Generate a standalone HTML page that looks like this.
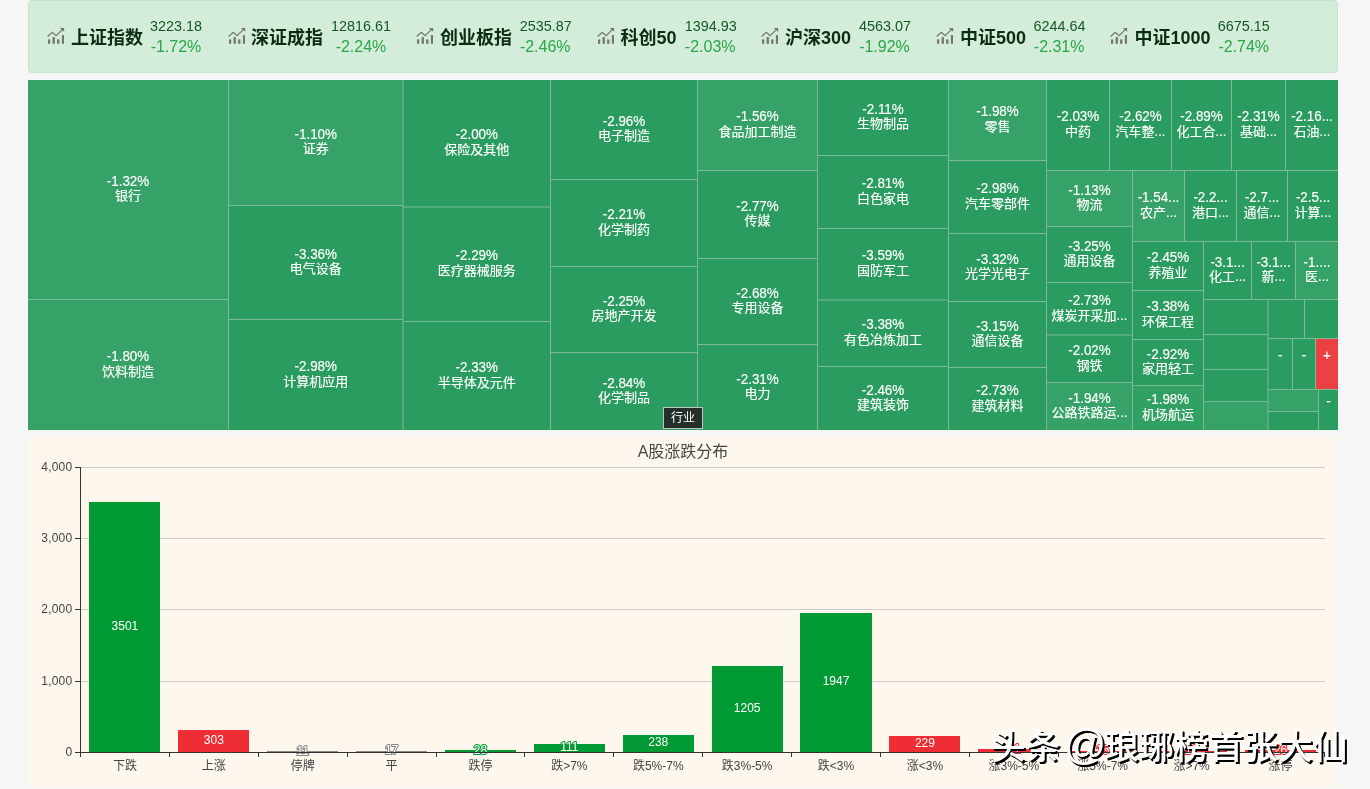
<!DOCTYPE html>
<html lang="zh-CN">
<head>
<meta charset="utf-8">
<title>A股涨跌分布</title>
<style>
html,body{margin:0;padding:0;}
body{width:1370px;height:789px;overflow:hidden;background:#f6f6f6;position:relative;font-family:"Liberation Sans","Noto Sans CJK SC",sans-serif;}
.abs{position:absolute;}
#alert{left:28px;top:0;width:1308px;height:71px;background:#d4edda;border:1px solid #c3e6cb;border-radius:4px;}
.ic{position:absolute;top:26px;width:18px;height:18px;}
.nm{position:absolute;top:22px;height:30px;line-height:30px;font-size:18px;font-weight:700;color:#0b2e13;white-space:nowrap;}
.vals{position:absolute;top:14px;text-align:center;white-space:nowrap;}
.vals .v{font-size:14.4px;line-height:22px;height:22px;color:#155724;}
.vals .p{font-size:16px;line-height:20px;height:20px;color:#28a745;}
#tm{left:28px;top:80px;width:1310px;height:350px;background:#7db996;overflow:hidden;}
.c{position:absolute;display:flex;flex-direction:column;align-items:center;justify-content:center;color:#fff;font-size:13px;line-height:15px;text-align:center;white-space:nowrap;overflow:hidden;}
.c span{display:block;height:15px;position:relative;top:-1.15px;-webkit-text-stroke:0.15px #fff;}
.c span.d{font-size:13.4px;transform:scaleY(1.1);top:-0.9px;}
.c.one{justify-content:flex-start;}
#bc{left:662.6px;top:407.2px;width:38.8px;height:20.2px;border:1px solid #b9c8bf;background:#252f2a;color:#fff;font-size:12px;line-height:20px;text-align:center;}
#panel{left:28px;top:437px;width:1310px;height:350px;background:#fef7ed;}
#title{left:0;top:4px;width:1310px;text-align:center;font-size:16px;line-height:22px;color:#464646;}
.gl{position:absolute;left:53px;width:1244px;height:1px;background:#ccc;}
.yl{position:absolute;left:0;width:44.3px;text-align:right;font-size:12px;line-height:14px;color:#444;letter-spacing:0.2px;margin-top:-0.4px;}
.yt{position:absolute;left:47px;width:5px;height:1px;background:#333;}
.xt{position:absolute;top:316px;width:1px;height:4px;background:#333;}
.xl{position:absolute;top:320px;width:89px;text-align:center;font-size:12px;line-height:18px;color:#444;white-space:nowrap;}
.bar{position:absolute;}
.bl{position:absolute;text-align:center;font-size:12px;line-height:14px;height:14px;color:#fff;white-space:nowrap;}
#wm{left:991px;top:721px;font-size:34.6px;line-height:48px;color:#fff;white-space:nowrap;text-shadow:1.5px 1.5px 0 #000,2px 2px 0 #000;font-weight:500;letter-spacing:0.15px;}
#wm .at{font-size:42px;line-height:48px;margin-left:-6.5px;margin-right:-2px;font-weight:400;}
</style>
</head>
<body>
<div id="alert" class="abs">
<svg class="ic" style="left:18.0px" viewBox="0 0 18 18"><g fill="#747474"><rect x="1" y="12.4" width="2.2" height="4.4"/><rect x="5.6" y="10.1" width="2.3" height="6.7"/><rect x="10.1" y="12.4" width="2.3" height="4.4"/><rect x="14.9" y="8.1" width="2.1" height="8.7"/><polygon points="12.8,1.1 17.1,1.1 17.1,4.8"/></g><path d="M0.6 9.5 L5.3 5.2 L9.1 8.7 L15.6 2.4" fill="none" stroke="#747474" stroke-width="1.2"/></svg>
<div class="nm" style="left:42px">上证指数</div>
<div class="vals" style="left:121px;width:52px"><div class="v">3223.18</div><div class="p">-1.72%</div></div>
<svg class="ic" style="left:198.9px" viewBox="0 0 18 18"><g fill="#747474"><rect x="1" y="12.4" width="2.2" height="4.4"/><rect x="5.6" y="10.1" width="2.3" height="6.7"/><rect x="10.1" y="12.4" width="2.3" height="4.4"/><rect x="14.9" y="8.1" width="2.1" height="8.7"/><polygon points="12.8,1.1 17.1,1.1 17.1,4.8"/></g><path d="M0.6 9.5 L5.3 5.2 L9.1 8.7 L15.6 2.4" fill="none" stroke="#747474" stroke-width="1.2"/></svg>
<div class="nm" style="left:222px">深证成指</div>
<div class="vals" style="left:302px;width:60px"><div class="v">12816.61</div><div class="p">-2.24%</div></div>
<svg class="ic" style="left:387.0px" viewBox="0 0 18 18"><g fill="#747474"><rect x="1" y="12.4" width="2.2" height="4.4"/><rect x="5.6" y="10.1" width="2.3" height="6.7"/><rect x="10.1" y="12.4" width="2.3" height="4.4"/><rect x="14.9" y="8.1" width="2.1" height="8.7"/><polygon points="12.8,1.1 17.1,1.1 17.1,4.8"/></g><path d="M0.6 9.5 L5.3 5.2 L9.1 8.7 L15.6 2.4" fill="none" stroke="#747474" stroke-width="1.2"/></svg>
<div class="nm" style="left:411px">创业板指</div>
<div class="vals" style="left:490.7px;width:51.1px"><div class="v">2535.87</div><div class="p">-2.46%</div></div>
<svg class="ic" style="left:568.3px" viewBox="0 0 18 18"><g fill="#747474"><rect x="1" y="12.4" width="2.2" height="4.4"/><rect x="5.6" y="10.1" width="2.3" height="6.7"/><rect x="10.1" y="12.4" width="2.3" height="4.4"/><rect x="14.9" y="8.1" width="2.1" height="8.7"/><polygon points="12.8,1.1 17.1,1.1 17.1,4.8"/></g><path d="M0.6 9.5 L5.3 5.2 L9.1 8.7 L15.6 2.4" fill="none" stroke="#747474" stroke-width="1.2"/></svg>
<div class="nm" style="left:591.5px">科创50</div>
<div class="vals" style="left:655.7px;width:51.0px"><div class="v">1394.93</div><div class="p">-2.03%</div></div>
<svg class="ic" style="left:731.5px" viewBox="0 0 18 18"><g fill="#747474"><rect x="1" y="12.4" width="2.2" height="4.4"/><rect x="5.6" y="10.1" width="2.3" height="6.7"/><rect x="10.1" y="12.4" width="2.3" height="4.4"/><rect x="14.9" y="8.1" width="2.1" height="8.7"/><polygon points="12.8,1.1 17.1,1.1 17.1,4.8"/></g><path d="M0.6 9.5 L5.3 5.2 L9.1 8.7 L15.6 2.4" fill="none" stroke="#747474" stroke-width="1.2"/></svg>
<div class="nm" style="left:756px">沪深300</div>
<div class="vals" style="left:830px;width:51px"><div class="v">4563.07</div><div class="p">-1.92%</div></div>
<svg class="ic" style="left:907.2px" viewBox="0 0 18 18"><g fill="#747474"><rect x="1" y="12.4" width="2.2" height="4.4"/><rect x="5.6" y="10.1" width="2.3" height="6.7"/><rect x="10.1" y="12.4" width="2.3" height="4.4"/><rect x="14.9" y="8.1" width="2.1" height="8.7"/><polygon points="12.8,1.1 17.1,1.1 17.1,4.8"/></g><path d="M0.6 9.5 L5.3 5.2 L9.1 8.7 L15.6 2.4" fill="none" stroke="#747474" stroke-width="1.2"/></svg>
<div class="nm" style="left:931px">中证500</div>
<div class="vals" style="left:1004.5px;width:51.3px"><div class="v">6244.64</div><div class="p">-2.31%</div></div>
<svg class="ic" style="left:1081.3px" viewBox="0 0 18 18"><g fill="#747474"><rect x="1" y="12.4" width="2.2" height="4.4"/><rect x="5.6" y="10.1" width="2.3" height="6.7"/><rect x="10.1" y="12.4" width="2.3" height="4.4"/><rect x="14.9" y="8.1" width="2.1" height="8.7"/><polygon points="12.8,1.1 17.1,1.1 17.1,4.8"/></g><path d="M0.6 9.5 L5.3 5.2 L9.1 8.7 L15.6 2.4" fill="none" stroke="#747474" stroke-width="1.2"/></svg>
<div class="nm" style="left:1105.5px">中证1000</div>
<div class="vals" style="left:1188.8px;width:51.9px"><div class="v">6675.15</div><div class="p">-2.74%</div></div>
</div>
<div id="tm" class="abs">
<svg width="1310" height="350" viewBox="28 80 1310 350" style="position:absolute;left:0;top:0">
<rect x="28.00" y="80.00" width="200.00" height="219.00" fill="#36a267"/><rect x="28.00" y="300.00" width="200.00" height="130.00" fill="#36a267"/><rect x="229.00" y="80.00" width="173.50" height="125.00" fill="#36a267"/><rect x="229.00" y="206.00" width="173.50" height="113.00" fill="#2b9c5f"/><rect x="229.00" y="320.00" width="173.50" height="110.00" fill="#2b9c5f"/><rect x="403.50" y="80.00" width="146.50" height="126.50" fill="#2b9c5f"/><rect x="403.50" y="207.50" width="146.50" height="113.50" fill="#2b9c5f"/><rect x="403.50" y="322.00" width="146.50" height="108.00" fill="#2b9c5f"/><rect x="551.00" y="80.00" width="146.00" height="99.00" fill="#2b9c5f"/><rect x="551.00" y="180.00" width="146.00" height="86.00" fill="#2b9c5f"/><rect x="551.00" y="267.00" width="146.00" height="85.00" fill="#2b9c5f"/><rect x="551.00" y="353.00" width="146.00" height="77.00" fill="#2b9c5f"/><rect x="698.00" y="80.00" width="119.00" height="90.00" fill="#36a267"/><rect x="698.00" y="171.00" width="119.00" height="87.00" fill="#2b9c5f"/><rect x="698.00" y="259.00" width="119.00" height="85.00" fill="#2b9c5f"/><rect x="698.00" y="345.00" width="119.00" height="85.00" fill="#2b9c5f"/><rect x="818.00" y="80.00" width="130.00" height="75.00" fill="#2b9c5f"/><rect x="818.00" y="156.00" width="130.00" height="72.00" fill="#2b9c5f"/><rect x="818.00" y="229.00" width="130.00" height="70.50" fill="#2b9c5f"/><rect x="818.00" y="300.50" width="130.00" height="65.50" fill="#2b9c5f"/><rect x="818.00" y="367.00" width="130.00" height="63.00" fill="#2b9c5f"/><rect x="949.00" y="80.00" width="97.00" height="80.00" fill="#36a267"/><rect x="949.00" y="161.00" width="97.00" height="72.00" fill="#2b9c5f"/><rect x="949.00" y="234.00" width="97.00" height="67.00" fill="#2b9c5f"/><rect x="949.00" y="302.00" width="97.00" height="65.00" fill="#2b9c5f"/><rect x="949.00" y="368.00" width="97.00" height="62.00" fill="#2b9c5f"/><rect x="1047.00" y="80.00" width="62.00" height="90.00" fill="#2b9c5f"/><rect x="1110.00" y="80.00" width="61.00" height="90.00" fill="#2b9c5f"/><rect x="1172.00" y="80.00" width="59.00" height="90.00" fill="#2b9c5f"/><rect x="1232.00" y="80.00" width="53.00" height="90.00" fill="#2b9c5f"/><rect x="1286.00" y="80.00" width="52.00" height="90.00" fill="#2b9c5f"/><rect x="1047.00" y="171.00" width="85.00" height="55.00" fill="#36a267"/><rect x="1047.00" y="227.00" width="85.00" height="55.00" fill="#2b9c5f"/><rect x="1047.00" y="283.00" width="85.00" height="51.50" fill="#2b9c5f"/><rect x="1047.00" y="335.50" width="85.00" height="46.50" fill="#2b9c5f"/><rect x="1047.00" y="383.00" width="85.00" height="47.00" fill="#36a267"/><rect x="1133.00" y="171.00" width="51.00" height="70.00" fill="#36a267"/><rect x="1185.00" y="171.00" width="51.00" height="70.00" fill="#2b9c5f"/><rect x="1237.00" y="171.00" width="50.00" height="70.00" fill="#2b9c5f"/><rect x="1288.00" y="171.00" width="50.00" height="70.00" fill="#2b9c5f"/><rect x="1133.00" y="242.00" width="70.00" height="48.00" fill="#2b9c5f"/><rect x="1133.00" y="291.00" width="70.00" height="48.00" fill="#2b9c5f"/><rect x="1133.00" y="340.00" width="70.00" height="45.00" fill="#2b9c5f"/><rect x="1133.00" y="386.00" width="70.00" height="44.00" fill="#30a063"/><rect x="1204.00" y="242.00" width="47.00" height="57.00" fill="#2b9c5f"/><rect x="1252.00" y="242.00" width="43.00" height="57.00" fill="#2b9c5f"/><rect x="1296.00" y="242.00" width="42.00" height="57.00" fill="#36a267"/><rect x="1204.00" y="300.00" width="63.50" height="34.00" fill="#2b9c5f"/><rect x="1204.00" y="335.00" width="63.50" height="34.00" fill="#2b9c5f"/><rect x="1204.00" y="370.00" width="63.50" height="31.00" fill="#2b9c5f"/><rect x="1204.00" y="402.00" width="63.50" height="28.00" fill="#36a267"/><rect x="1268.50" y="300.00" width="35.50" height="38.00" fill="#2b9c5f"/><rect x="1305.00" y="300.00" width="33.00" height="38.00" fill="#2b9c5f"/><rect x="1268.50" y="339.00" width="23.50" height="50.00" fill="#2b9c5f"/><rect x="1293.00" y="339.00" width="22.00" height="50.00" fill="#2b9c5f"/><rect x="1316.00" y="339.00" width="22.00" height="50.00" fill="#ec4044"/><rect x="1268.50" y="390.00" width="49.50" height="21.00" fill="#36a267"/><rect x="1268.50" y="412.00" width="49.50" height="18.00" fill="#2b9c5f"/><rect x="1319.00" y="390.00" width="19.00" height="40.00" fill="#2b9c5f"/>
</svg>
<div class="c" style="left:0.00px;top:0.00px;width:200.00px;height:219.00px"><span class="d">-1.32%</span><span>银行</span></div>
<div class="c" style="left:0.00px;top:220.00px;width:200.00px;height:130.00px"><span class="d">-1.80%</span><span>饮料制造</span></div>
<div class="c" style="left:201.00px;top:0.00px;width:173.50px;height:125.00px"><span class="d">-1.10%</span><span>证券</span></div>
<div class="c" style="left:201.00px;top:126.00px;width:173.50px;height:113.00px"><span class="d">-3.36%</span><span>电气设备</span></div>
<div class="c" style="left:201.00px;top:240.00px;width:173.50px;height:110.00px"><span class="d">-2.98%</span><span>计算机应用</span></div>
<div class="c" style="left:375.50px;top:0.00px;width:146.50px;height:126.50px"><span class="d">-2.00%</span><span>保险及其他</span></div>
<div class="c" style="left:375.50px;top:127.50px;width:146.50px;height:113.50px"><span class="d">-2.29%</span><span>医疗器械服务</span></div>
<div class="c" style="left:375.50px;top:242.00px;width:146.50px;height:108.00px"><span class="d">-2.33%</span><span>半导体及元件</span></div>
<div class="c" style="left:523.00px;top:0.00px;width:146.00px;height:99.00px"><span class="d">-2.96%</span><span>电子制造</span></div>
<div class="c" style="left:523.00px;top:100.00px;width:146.00px;height:86.00px"><span class="d">-2.21%</span><span>化学制药</span></div>
<div class="c" style="left:523.00px;top:187.00px;width:146.00px;height:85.00px"><span class="d">-2.25%</span><span>房地产开发</span></div>
<div class="c" style="left:523.00px;top:273.00px;width:146.00px;height:77.00px"><span class="d">-2.84%</span><span>化学制品</span></div>
<div class="c" style="left:670.00px;top:0.00px;width:119.00px;height:90.00px"><span class="d">-1.56%</span><span>食品加工制造</span></div>
<div class="c" style="left:670.00px;top:91.00px;width:119.00px;height:87.00px"><span class="d">-2.77%</span><span>传媒</span></div>
<div class="c" style="left:670.00px;top:179.00px;width:119.00px;height:85.00px"><span class="d">-2.68%</span><span>专用设备</span></div>
<div class="c" style="left:670.00px;top:265.00px;width:119.00px;height:85.00px"><span class="d">-2.31%</span><span>电力</span></div>
<div class="c" style="left:790.00px;top:0.00px;width:130.00px;height:75.00px"><span class="d">-2.11%</span><span>生物制品</span></div>
<div class="c" style="left:790.00px;top:76.00px;width:130.00px;height:72.00px"><span class="d">-2.81%</span><span>白色家电</span></div>
<div class="c" style="left:790.00px;top:149.00px;width:130.00px;height:70.50px"><span class="d">-3.59%</span><span>国防军工</span></div>
<div class="c" style="left:790.00px;top:220.50px;width:130.00px;height:65.50px"><span class="d">-3.38%</span><span>有色冶炼加工</span></div>
<div class="c" style="left:790.00px;top:287.00px;width:130.00px;height:63.00px"><span class="d">-2.46%</span><span>建筑装饰</span></div>
<div class="c" style="left:921.00px;top:0.00px;width:97.00px;height:80.00px"><span class="d">-1.98%</span><span>零售</span></div>
<div class="c" style="left:921.00px;top:81.00px;width:97.00px;height:72.00px"><span class="d">-2.98%</span><span>汽车零部件</span></div>
<div class="c" style="left:921.00px;top:154.00px;width:97.00px;height:67.00px"><span class="d">-3.32%</span><span>光学光电子</span></div>
<div class="c" style="left:921.00px;top:222.00px;width:97.00px;height:65.00px"><span class="d">-3.15%</span><span>通信设备</span></div>
<div class="c" style="left:921.00px;top:288.00px;width:97.00px;height:62.00px"><span class="d">-2.73%</span><span>建筑材料</span></div>
<div class="c" style="left:1019.00px;top:0.00px;width:62.00px;height:90.00px"><span class="d">-2.03%</span><span>中药</span></div>
<div class="c" style="left:1082.00px;top:0.00px;width:61.00px;height:90.00px"><span class="d">-2.62%</span><span>汽车整...</span></div>
<div class="c" style="left:1144.00px;top:0.00px;width:59.00px;height:90.00px"><span class="d">-2.89%</span><span>化工合...</span></div>
<div class="c" style="left:1204.00px;top:0.00px;width:53.00px;height:90.00px"><span class="d">-2.31%</span><span>基础...</span></div>
<div class="c" style="left:1258.00px;top:0.00px;width:52.00px;height:90.00px"><span class="d">-2.16...</span><span>石油...</span></div>
<div class="c" style="left:1019.00px;top:91.00px;width:85.00px;height:55.00px"><span class="d">-1.13%</span><span>物流</span></div>
<div class="c" style="left:1019.00px;top:147.00px;width:85.00px;height:55.00px"><span class="d">-3.25%</span><span>通用设备</span></div>
<div class="c" style="left:1019.00px;top:203.00px;width:85.00px;height:51.50px"><span class="d">-2.73%</span><span>煤炭开采加...</span></div>
<div class="c" style="left:1019.00px;top:255.50px;width:85.00px;height:46.50px"><span class="d">-2.02%</span><span>钢铁</span></div>
<div class="c" style="left:1019.00px;top:303.00px;width:85.00px;height:47.00px"><span class="d">-1.94%</span><span>公路铁路运...</span></div>
<div class="c" style="left:1105.00px;top:91.00px;width:51.00px;height:70.00px"><span class="d">-1.54...</span><span>农产...</span></div>
<div class="c" style="left:1157.00px;top:91.00px;width:51.00px;height:70.00px"><span class="d">-2.2...</span><span>港口...</span></div>
<div class="c" style="left:1209.00px;top:91.00px;width:50.00px;height:70.00px"><span class="d">-2.7...</span><span>通信...</span></div>
<div class="c" style="left:1260.00px;top:91.00px;width:50.00px;height:70.00px"><span class="d">-2.5...</span><span>计算...</span></div>
<div class="c" style="left:1105.00px;top:162.00px;width:70.00px;height:48.00px"><span class="d">-2.45%</span><span>养殖业</span></div>
<div class="c" style="left:1105.00px;top:211.00px;width:70.00px;height:48.00px"><span class="d">-3.38%</span><span>环保工程</span></div>
<div class="c" style="left:1105.00px;top:260.00px;width:70.00px;height:45.00px"><span class="d">-2.92%</span><span>家用轻工</span></div>
<div class="c" style="left:1105.00px;top:306.00px;width:70.00px;height:44.00px"><span class="d">-1.98%</span><span>机场航运</span></div>
<div class="c" style="left:1176.00px;top:162.00px;width:47.00px;height:57.00px"><span class="d">-3.1...</span><span>化工...</span></div>
<div class="c" style="left:1224.00px;top:162.00px;width:43.00px;height:57.00px"><span class="d">-3.1...</span><span>新...</span></div>
<div class="c" style="left:1268.00px;top:162.00px;width:42.00px;height:57.00px"><span class="d">-1....</span><span>医...</span></div>
<div class="c one" style="left:1240.50px;top:259.00px;width:23.50px;height:50.00px;padding-top:10.0px;height:40.0px"><span class="d">-</span></div>
<div class="c one" style="left:1265.00px;top:259.00px;width:22.00px;height:50.00px;padding-top:10.0px;height:40.0px"><span class="d">-</span></div>
<div class="c one" style="left:1288.00px;top:259.00px;width:22.00px;height:50.00px;padding-top:10.0px;height:40.0px"><span class="d">+</span></div>
<div class="c one" style="left:1291.00px;top:310.00px;width:19.00px;height:40.00px;padding-top:5.0px;height:35.0px"><span class="d">-</span></div>
</div>
<div id="bc" class="abs">行业</div>
<div id="panel" class="abs">
<div id="title" class="abs">A股涨跌分布</div>
<div class="gl" style="top:30px"></div><div class="yt" style="top:30px"></div><div class="yl" style="top:23px">4,000</div>
<div class="gl" style="top:101px"></div><div class="yt" style="top:101px"></div><div class="yl" style="top:94px">3,000</div>
<div class="gl" style="top:172px"></div><div class="yt" style="top:172px"></div><div class="yl" style="top:165px">2,000</div>
<div class="gl" style="top:244px"></div><div class="yt" style="top:244px"></div><div class="yl" style="top:237px">1,000</div>
<div class="yt" style="top:315px"></div><div class="yl" style="top:308px">0</div>
<div class="xt" style="left:52px"></div><div class="bar" style="left:61.39px;top:65.28px;width:71.11px;height:249.62px;background:#009933"></div><div class="bl" style="left:61.39px;top:182.09px;width:71.11px;">3501</div><div class="xl" style="left:52.44px">下跌</div>
<div class="xt" style="left:141px"></div><div class="bar" style="left:150.27px;top:293.30px;width:71.11px;height:21.60px;background:#ee2e34"></div><div class="bl" style="left:150.27px;top:296.10px;width:71.11px;">303</div><div class="xl" style="left:141.33px">上涨</div>
<div class="xt" style="left:230px"></div><div class="bar" style="left:239.16px;top:314.12px;width:71.11px;height:0.78px;background:#8a8a8a"></div><div class="bl" style="left:239.16px;top:306.51px;width:71.11px;-webkit-text-stroke:2px #8a8a8a;paint-order:stroke fill;">11</div><div class="xl" style="left:230.21px">停牌</div>
<div class="xt" style="left:319px"></div><div class="bar" style="left:328.05px;top:313.69px;width:71.11px;height:1.21px;background:#8a8a8a"></div><div class="bl" style="left:328.05px;top:306.29px;width:71.11px;-webkit-text-stroke:2px #8a8a8a;paint-order:stroke fill;">17</div><div class="xl" style="left:319.10px">平</div>
<div class="xt" style="left:408px"></div><div class="bar" style="left:416.93px;top:312.90px;width:71.11px;height:2.00px;background:#009933"></div><div class="bl" style="left:416.93px;top:305.90px;width:71.11px;-webkit-text-stroke:2px #009933;paint-order:stroke fill;">28</div><div class="xl" style="left:407.99px">跌停</div>
<div class="xt" style="left:496px"></div><div class="bar" style="left:505.82px;top:306.99px;width:71.11px;height:7.91px;background:#009933"></div><div class="bl" style="left:505.82px;top:302.94px;width:71.11px;-webkit-text-stroke:2px #009933;paint-order:stroke fill;">111</div><div class="xl" style="left:496.87px">跌&gt;7%</div>
<div class="xt" style="left:585px"></div><div class="bar" style="left:594.70px;top:297.93px;width:71.11px;height:16.97px;background:#009933"></div><div class="bl" style="left:594.70px;top:298.42px;width:71.11px;">238</div><div class="xl" style="left:585.76px">跌5%-7%</div>
<div class="xt" style="left:674px"></div><div class="bar" style="left:683.59px;top:228.98px;width:71.11px;height:85.92px;background:#009933"></div><div class="bl" style="left:683.59px;top:263.94px;width:71.11px;">1205</div><div class="xl" style="left:674.64px">跌3%-5%</div>
<div class="xt" style="left:763px"></div><div class="bar" style="left:772.47px;top:176.08px;width:71.11px;height:138.82px;background:#009933"></div><div class="bl" style="left:772.47px;top:237.49px;width:71.11px;">1947</div><div class="xl" style="left:763.53px">跌&lt;3%</div>
<div class="xt" style="left:852px"></div><div class="bar" style="left:861.36px;top:298.57px;width:71.11px;height:16.33px;background:#ee2e34"></div><div class="bl" style="left:861.36px;top:298.74px;width:71.11px;">229</div><div class="xl" style="left:852.41px">涨&lt;3%</div>
<div class="xt" style="left:941px"></div><div class="bar" style="left:950.25px;top:311.98px;width:71.11px;height:2.92px;background:#ee2e34"></div><div class="bl" style="left:950.25px;top:305.44px;width:71.11px;-webkit-text-stroke:2px #ee2e34;paint-order:stroke fill;">41</div><div class="xl" style="left:941.30px">涨3%-5%</div>
<div class="xt" style="left:1030px"></div><div class="bar" style="left:1039.13px;top:313.83px;width:71.11px;height:1.07px;background:#ee2e34"></div><div class="bl" style="left:1039.13px;top:306.37px;width:71.11px;-webkit-text-stroke:2px #ee2e34;paint-order:stroke fill;">15</div><div class="xl" style="left:1030.19px">涨5%-7%</div>
<div class="xt" style="left:1119px"></div><div class="bar" style="left:1128.02px;top:313.62px;width:71.11px;height:1.28px;background:#ee2e34"></div><div class="bl" style="left:1128.02px;top:306.26px;width:71.11px;-webkit-text-stroke:2px #ee2e34;paint-order:stroke fill;">18</div><div class="xl" style="left:1119.07px">涨&gt;7%</div>
<div class="xt" style="left:1208px"></div><div class="bar" style="left:1216.90px;top:313.05px;width:71.11px;height:1.85px;background:#ee2e34"></div><div class="bl" style="left:1216.90px;top:305.97px;width:71.11px;-webkit-text-stroke:2px #ee2e34;paint-order:stroke fill;">26</div><div class="xl" style="left:1207.96px">涨停</div>
<div class="xt" style="left:1296px"></div>
<div class="abs" style="left:52px;top:30px;width:1px;height:286px;background:#333"></div>
<div class="abs" style="left:52px;top:315px;width:1245px;height:1px;background:#333"></div>
</div>
<div id="wm" class="abs">头条 <span class="at">@</span>琅琊榜首张大仙</div>
</body>
</html>
